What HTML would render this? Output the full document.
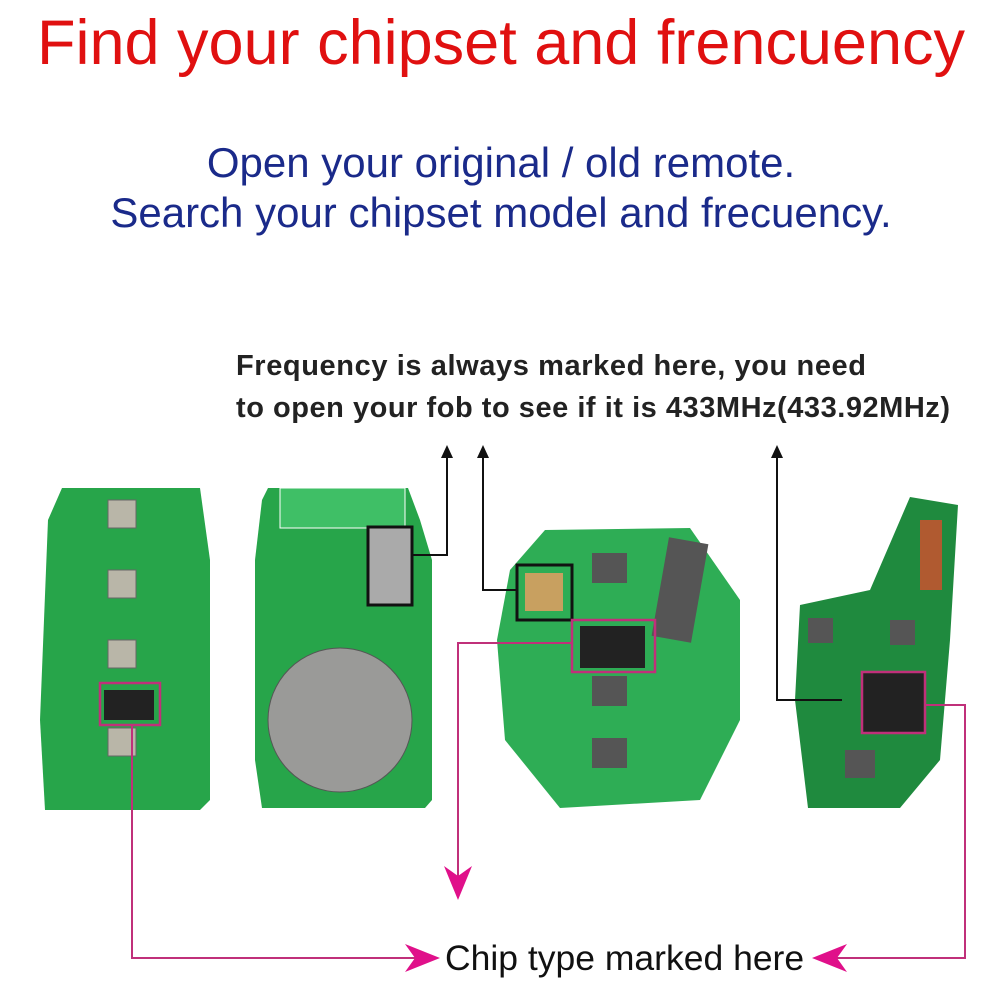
<!DOCTYPE html>
<html><head><meta charset="utf-8"><style>
html,body{margin:0;padding:0;background:#fff;width:1000px;height:1000px;overflow:hidden}
</style></head><body>
<svg width="1000" height="1000" viewBox="0 0 1000 1000" xmlns="http://www.w3.org/2000/svg" font-family="Liberation Sans, sans-serif">
<text x="501" y="64" text-anchor="middle" font-size="63" fill="#e01010">Find your chipset and frencuency</text>
<text x="501" y="177" text-anchor="middle" font-size="42" fill="#1a2a8a">Open your original / old remote.</text>
<text x="501" y="227" text-anchor="middle" font-size="42" fill="#1a2a8a">Search your chipset model and frecuency.</text>
<text x="236" y="375" font-size="29" font-weight="bold" fill="#222" textLength="630">Frequency is always marked here, you need</text>
<text x="236" y="417" font-size="29" font-weight="bold" fill="#222" textLength="714">to open your fob to see if it is 433MHz(433.92MHz)</text>

<path d="M62,488 L200,488 L210,560 L210,800 L200,810 L45,810 L40,720 L48,520 Z" fill="#27a54a"/>
<g fill="#b9b6a8" stroke="#666"><rect x="108" y="500" width="28" height="28"/><rect x="108" y="570" width="28" height="28"/><rect x="108" y="640" width="28" height="28"/><rect x="108" y="728" width="28" height="28"/></g>
<rect x="104" y="690" width="50" height="30" fill="#222"/>
<path d="M268,488 L408,488 L420,520 L432,560 L432,800 L425,808 L262,808 L255,760 L255,560 L262,500 Z" fill="#27a54a"/>
<rect x="280" y="488" width="125" height="40" fill="#3fbf66" stroke="#fff"/>
<circle cx="340" cy="720" r="72" fill="#9a9a98" stroke="#555"/>
<rect x="368" y="527" width="44" height="78" fill="#aaa" stroke="#111" stroke-width="3"/>
<path d="M545,530 L690,528 L740,600 L740,720 L700,800 L560,808 L505,740 L497,640 L510,570 Z" fill="#2ead55"/>
<rect x="660" y="540" width="40" height="100" fill="#555" transform="rotate(10 680 590)"/>
<g fill="#555"><rect x="592" y="553" width="35" height="30"/><rect x="592" y="676" width="35" height="30"/><rect x="592" y="738" width="35" height="30"/></g>
<rect x="580" y="626" width="65" height="42" fill="#222"/>
<rect x="517" y="565" width="55" height="55" fill="none" stroke="#111" stroke-width="3"/>
<rect x="525" y="573" width="38" height="38" fill="#c8a060"/>
<path d="M910,497 L958,505 L950,640 L940,760 L900,808 L808,808 L795,700 L800,605 L870,590 Z" fill="#1f8a3e"/>
<rect x="920" y="520" width="22" height="70" fill="#b05a30"/>
<rect x="862" y="672" width="63" height="61" fill="#222"/>
<rect x="808" y="618" width="25" height="25" fill="#555"/><rect x="890" y="620" width="25" height="25" fill="#555"/><rect x="845" y="750" width="30" height="28" fill="#555"/>

<g fill="none" stroke="#c0307a" stroke-width="2.5">
<rect x="100" y="683" width="60" height="42"/><rect x="572" y="620" width="83" height="52"/><rect x="862" y="672" width="63" height="61"/>
</g>
<g fill="none" stroke="#111" stroke-width="2">
<polyline points="412,555 447,555 447,455"/>
<polyline points="517,590 483,590 483,455"/>
<polyline points="842,700 777,700 777,455"/>
</g>
<g fill="#111">
<path d="M447,445 L441,458 L453,458 Z"/>
<path d="M483,445 L477,458 L489,458 Z"/>
<path d="M777,445 L771,458 L783,458 Z"/>
</g>
<g fill="none" stroke="#c0307a" stroke-width="2">
<polyline points="132,725 132,958 420,958"/>
<polyline points="572,643 458,643 458,880"/>
<polyline points="925,705 965,705 965,958 835,958"/>
</g>
<g fill="#e0108a">
<path d="M440,958 L405,944 L415,958 L405,972 Z"/>
<path d="M458,900 L444,866 L458,876 L472,866 Z"/>
<path d="M812,958 L847,944 L837,958 L847,972 Z"/>
</g>
<text x="445" y="970" font-size="35.5" fill="#111">Chip type marked here</text>
</svg>
</body></html>
